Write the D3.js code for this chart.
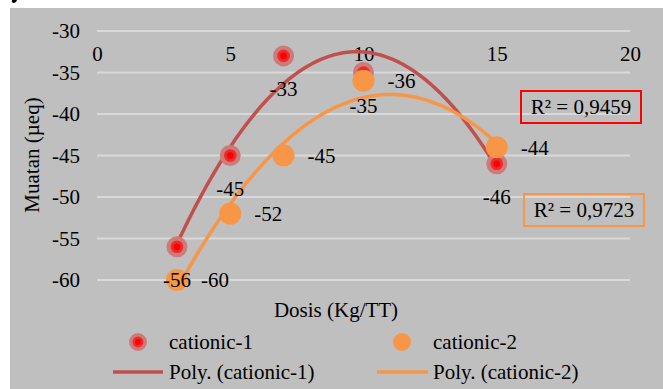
<!DOCTYPE html>
<html><head><meta charset="utf-8">
<script src="https://cdn.jsdelivr.net/npm/d3@7"></script>
<style>html,body{margin:0;padding:0;background:#fff;}svg{display:block;}
svg text{font-family:"Liberation Serif","Times New Roman",serif !important;}</style>
</head><body>
<svg id="c" width="663" height="389"></svg>
<script>
const doses = [3, 5, 7, 10, 15];
const cationic1 = [-56, -45, -33, -35, -46];
const cationic2 = [-60, -52, -45, -36, -44];
const xTicks = [0, 5, 10, 15, 20];
const yTicks = [-30, -35, -40, -45, -50, -55, -60];
const r2Labels = ["R² = 0,9459", "R² = 0,9723"];
const seriesNames = ["cationic-1", "cationic-2"];
const trendNames = ["Poly. (cationic-1)", "Poly. (cationic-2)"];

const FONT = "Liberation Serif";
const FS = 21;
const svg = d3.select("#c");
svg.append("rect").attr("x",10).attr("y",8).attr("width",653).attr("height",381).attr("fill","#bfbfbf");
// stray mark at very top-left
svg.append("path").attr("d","M12,0 L17,0 Q16,3 13,3 Q11,2 12,0 Z").attr("fill","#000");

const x = d3.scaleLinear().domain([0,20]).range([97,630]);
const y = d3.scaleLinear().domain([-60,-30]).range([280,31]);

// gridlines
svg.append("g").selectAll("line").data(yTicks).join("line")
  .attr("x1",x(0)).attr("x2",x(20)).attr("y1",d=>y(d)).attr("y2",d=>y(d))
  .attr("stroke","#d9d9d9").attr("stroke-width",2);

// y axis labels
const yAxis = d3.axisLeft(y).tickValues(yTicks).tickSize(0).tickPadding(0).tickFormat(d=>String(d));
const ga = svg.append("g").attr("transform","translate(80,0)").call(yAxis);
ga.select(".domain").remove();
ga.attr("font-family",FONT).attr("font-size",FS);
ga.selectAll("text").attr("fill","#000");

// x axis labels (at top)
const xAxis = d3.axisBottom(x).tickValues(xTicks).tickSize(0).tickPadding(0).tickFormat(d=>String(d));
const gx = svg.append("g").attr("transform","translate(0,46)").call(xAxis);
gx.select(".domain").remove();
gx.attr("font-family",FONT).attr("font-size",FS);
gx.selectAll("text").attr("fill","#000").attr("dy","0.71em");

// polynomial fit (order 2, least squares)
function polyfit(xs, ys){
  const S=k=>d3.sum(xs,v=>Math.pow(v,k));
  const T=k=>d3.sum(xs.map((v,i)=>Math.pow(v,k)*ys[i]));
  const A=[[S(0),S(1),S(2),T(0)],[S(1),S(2),S(3),T(1)],[S(2),S(3),S(4),T(2)]];
  for(let i=0;i<3;i++){
    for(let j=i+1;j<3;j++){const f=A[j][i]/A[i][i];for(let k=i;k<4;k++)A[j][k]-=f*A[i][k];}
  }
  const c=[0,0,0];
  for(let i=2;i>=0;i--){let s=A[i][3];for(let k=i+1;k<3;k++)s-=A[i][k]*c[k];c[i]=s/A[i][i];}
  return v=>c[0]+c[1]*v+c[2]*v*v;
}
const f1 = polyfit(doses, cationic1), f2 = polyfit(doses, cationic2);
const xs = d3.range(3, 15.001, 0.1);
const line = d3.line().x(d=>x(d[0])).y(d=>y(d[1]));
svg.append("path").attr("d",line(xs.map(v=>[v,f1(v)]))).attr("fill","none").attr("stroke","#c0504d").attr("stroke-width",3.5);
svg.append("path").attr("d",line(xs.map(v=>[v,f2(v)]))).attr("fill","none").attr("stroke","#f79646").attr("stroke-width",3.5);

function marker1(g, cx, cy, r){
  g.append("circle").attr("cx",cx).attr("cy",cy).attr("r",r).attr("fill","#cd7b79");
  g.append("circle").attr("cx",cx).attr("cy",cy).attr("r",r*0.6).attr("fill","#ee2a2a");
  g.append("circle").attr("cx",cx).attr("cy",cy).attr("r",r*0.32).attr("fill","#ff0000");
}
const gm = svg.append("g");
doses.forEach((d,i)=>marker1(gm, x(d), y(cationic1[i]), 10.5));
svg.append("g").selectAll("circle").data(doses).join("circle")
  .attr("cx",d=>x(d)).attr("cy",(d,i)=>y(cationic2[i])).attr("r",11).attr("fill","#f79646");

// data labels
svg.append("g").selectAll("text").data(doses).join("text")
  .attr("x",d=>x(d)).attr("y",(d,i)=>y(cationic1[i])+33).attr("dy","0.35em").attr("text-anchor","middle")
  .attr("font-family",FONT).attr("font-size",FS).attr("fill","#000").text((d,i)=>cationic1[i]);
svg.append("g").selectAll("text").data(doses).join("text")
  .attr("x",d=>x(d)+24).attr("y",(d,i)=>y(cationic2[i])).attr("dy","0.35em").attr("text-anchor","start")
  .attr("font-family",FONT).attr("font-size",FS).attr("fill","#000").text((d,i)=>cationic2[i]);

// R² boxes
const boxes = [{x:521,y:91,c:"#ff0000"},{x:524,y:194,c:"#f79646"}];
boxes.forEach((b,i)=>{
  svg.append("rect").attr("x",b.x).attr("y",b.y).attr("width",120).attr("height",32).attr("fill","none").attr("stroke",b.c).attr("stroke-width",2);
  svg.append("text").attr("x",b.x+60).attr("y",b.y+16).attr("dy","0.35em").attr("text-anchor","middle")
    .attr("font-family",FONT).attr("font-size",FS).attr("fill","#000").text(r2Labels[i]);
});

// axis titles
svg.append("text").attr("transform","translate(32,155) rotate(-90)").attr("dy","0.35em").attr("text-anchor","middle")
  .attr("font-family",FONT).attr("font-size",FS).attr("fill","#000").text("Muatan (µeq)");
svg.append("text").attr("x",336).attr("y",310).attr("dy","0.35em").attr("text-anchor","middle")
  .attr("font-family",FONT).attr("font-size",FS).attr("fill","#000").text("Dosis (Kg/TT)");

// legend
const lg = svg.append("g").attr("font-family",FONT).attr("font-size",FS).attr("fill","#000");
marker1(lg, 138, 342, 9);
lg.append("circle").attr("cx",402).attr("cy",342).attr("r",9).attr("fill","#f79646");
lg.append("text").attr("x",169).attr("y",342).attr("dy","0.35em").text(seriesNames[0]);
lg.append("text").attr("x",433).attr("y",342).attr("dy","0.35em").text(seriesNames[1]);
lg.append("line").attr("x1",113).attr("x2",163).attr("y1",372).attr("y2",372).attr("stroke","#c0504d").attr("stroke-width",3.5);
lg.append("line").attr("x1",377).attr("x2",428).attr("y1",372).attr("y2",372).attr("stroke","#f79646").attr("stroke-width",3.5);
lg.append("text").attr("x",169).attr("y",372).attr("dy","0.35em").text(trendNames[0]);
lg.append("text").attr("x",433).attr("y",372).attr("dy","0.35em").text(trendNames[1]);
</script>
</body></html>
